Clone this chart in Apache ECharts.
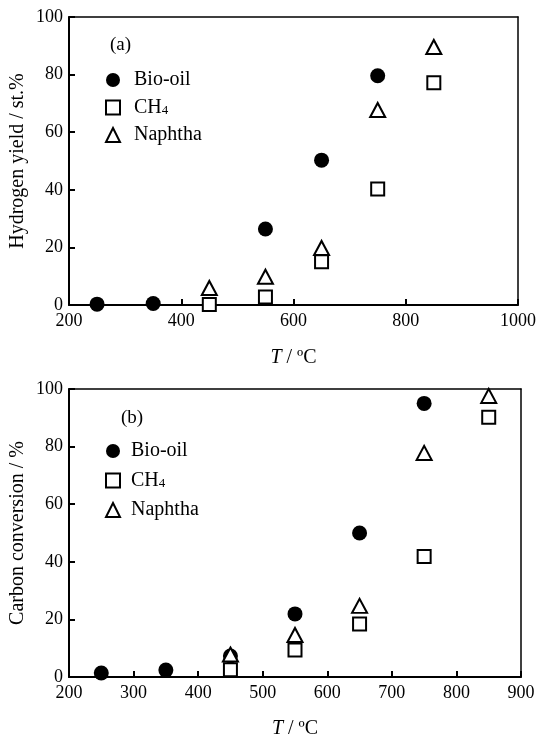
<!DOCTYPE html>
<html>
<head>
<meta charset="utf-8">
<script src="https://cdn.jsdelivr.net/npm/echarts@6/dist/echarts.min.js"></script>
<style>html,body{margin:0;padding:0;background:#fff}#c{width:539px;height:738px}</style>
</head>
<body>
<div id="c"></div>
<script>
// ---- data ----
const seriesNames = ['Bio-oil', 'CH4', 'Naphtha'];
// (a) hydrogen yield
const bioOilTempA = [250, 350, 550, 650, 750];
const bioOilH2 = [0.3, 0.5, 26.4, 50.3, 79.6];
const ch4TempA = [450, 550, 650, 750, 850];
const ch4H2 = [0.2, 2.8, 15.0, 40.3, 77.2];
const naphthaTempA = [450, 550, 650, 750, 850];
const naphthaH2 = [5.9, 9.8, 19.8, 67.7, 89.6];
// (b) carbon conversion
const bioOilTempB = [250, 350, 450, 550, 650, 750];
const bioOilC = [1.4, 2.4, 7.3, 21.9, 50.0, 95.0];
const ch4TempB = [450, 550, 650, 750, 850];
const ch4C = [2.5, 9.4, 18.4, 41.8, 90.2];
const naphthaTempB = [450, 550, 650, 750, 850];
const naphthaC = [7.8, 14.6, 24.7, 77.8, 97.6];
// axis settings
const xTicksA = { min: 200, max: 1000, interval: 200 };
const xTicksB = { min: 200, max: 900, interval: 100 };
const yTicks = { min: 0, max: 100, interval: 20 };

const FONT = 'Liberation Serif';
const zip = (xs, ys) => xs.map((x, i) => [x, ys[i]]);

const styles = {
  'Bio-oil': { symbol: 'circle', symbolSize: 15, itemStyle: { color: '#000', borderColor: '#000', borderWidth: 0, opacity: 1 } },
  'CH4': { symbol: 'rect', symbolSize: 13, itemStyle: { color: '#fff', borderColor: '#000', borderWidth: 2, opacity: 1 } },
  'Naphtha': { symbol: 'triangle', symbolSize: [15, 14], itemStyle: { color: '#fff', borderColor: '#000', borderWidth: 2, opacity: 1 } }
};

function mkSeries(name, data, idx) {
  const s = styles[name];
  return Object.assign({ type: 'scatter', name: name, xAxisIndex: idx, yAxisIndex: idx, data: data, z: 3 }, s);
}

function xAxis(t, gap) {
  return [{
    type: 'value', min: t.min, max: t.max, interval: t.interval,
    axisLine: { show: true, onZero: false, lineStyle: { color: '#000', width: 2 } },
    axisTick: { show: true, inside: true, length: 6, lineStyle: { color: '#000', width: 2 } },
    axisLabel: { color: '#000', fontFamily: FONT, fontSize: 18, margin: 7, formatter: v => String(v) },
    splitLine: { show: false },
    name: '{i|T} / ºC', nameLocation: 'middle', nameGap: gap,
    nameTextStyle: { color: '#000', fontFamily: FONT, fontSize: 20, rich: { i: { fontStyle: 'italic', fontFamily: FONT, fontSize: 20, color: '#000' } } }
  }, {
    type: 'value', position: 'top', min: t.min, max: t.max, interval: t.interval,
    axisLine: { show: true, onZero: false, lineStyle: { color: '#000', width: 1.5 } },
    axisTick: { show: false }, axisLabel: { show: false }, splitLine: { show: false }
  }];
}

function yAxis(name) {
  return [{
    type: 'value', min: yTicks.min, max: yTicks.max, interval: yTicks.interval,
    axisLine: { show: true, onZero: false, lineStyle: { color: '#000', width: 2 } },
    axisTick: { show: true, inside: true, length: 6, lineStyle: { color: '#000', width: 2 } },
    axisLabel: { color: '#000', fontFamily: FONT, fontSize: 18, margin: 6 },
    splitLine: { show: false },
    name: name, nameLocation: 'middle', nameGap: 41, nameRotate: 90, nameMoveOverlap: false,
    nameTextStyle: { color: '#000', fontFamily: FONT, fontSize: 20 }
  }, {
    type: 'value', position: 'right', min: yTicks.min, max: yTicks.max, interval: yTicks.interval,
    axisLine: { show: true, onZero: false, lineStyle: { color: '#000', width: 1.5 } },
    axisTick: { show: false }, axisLabel: { show: false }, splitLine: { show: false }
  }];
}

const xa = xAxis(xTicksA, 43), xb = xAxis(xTicksB, 42);
const ya = yAxis('Hydrogen yield / st.%'), yb = yAxis('Carbon conversion / %');

function legend(top, gap, pad) {
  return {
    orient: 'vertical', left: 105, top: top, padding: 0, itemWidth: 14, itemHeight: 14, itemGap: gap,
    selectedMode: false,
    data: seriesNames,
    formatter: n => n === 'CH4' ? 'CH{s|4}' : n,
    textStyle: { color: '#000', fontFamily: FONT, fontSize: 20, lineHeight: 20, padding: [0, 0, 0, pad],
      rich: { s: { fontFamily: FONT, fontSize: 13, color: '#000', verticalAlign: 'bottom', padding: [7, 0, 0, 0] } } }
  };
}

const chart = echarts.init(document.getElementById('c'), null, { renderer: 'canvas' });
chart.setOption({
  animation: false,
  backgroundColor: '#fff',
  title: [
    { text: '(a)', left: 105, top: 31, textStyle: { fontFamily: FONT, fontSize: 19, fontWeight: 'normal', color: '#000' } },
    { text: '(b)', left: 116, top: 404, textStyle: { fontFamily: FONT, fontSize: 19, fontWeight: 'normal', color: '#000' } }
  ],
  legend: [legend(70, 7.5, 9), legend(441, 9.5, 6)],
  grid: [
    { left: 69, top: 17, width: 449, height: 288, outerBoundsMode: 'none', containLabel: false },
    { left: 69, top: 389, width: 452, height: 288, outerBoundsMode: 'none', containLabel: false }
  ],
  xAxis: [xa[0], xa[1], xb[0], xb[1]].map((a, i) => Object.assign(a, { gridIndex: i < 2 ? 0 : 1 })),
  yAxis: [ya[0], ya[1], yb[0], yb[1]].map((a, i) => Object.assign(a, { gridIndex: i < 2 ? 0 : 1 })),
  series: [
    mkSeries('Bio-oil', zip(bioOilTempA, bioOilH2), 0),
    mkSeries('CH4', zip(ch4TempA, ch4H2), 0),
    mkSeries('Naphtha', zip(naphthaTempA, naphthaH2), 0),
    mkSeries('Bio-oil', zip(bioOilTempB, bioOilC), 2),
    mkSeries('CH4', zip(ch4TempB, ch4C), 2),
    mkSeries('Naphtha', zip(naphthaTempB, naphthaC), 2)
  ]
});
</script>
</body>
</html>
